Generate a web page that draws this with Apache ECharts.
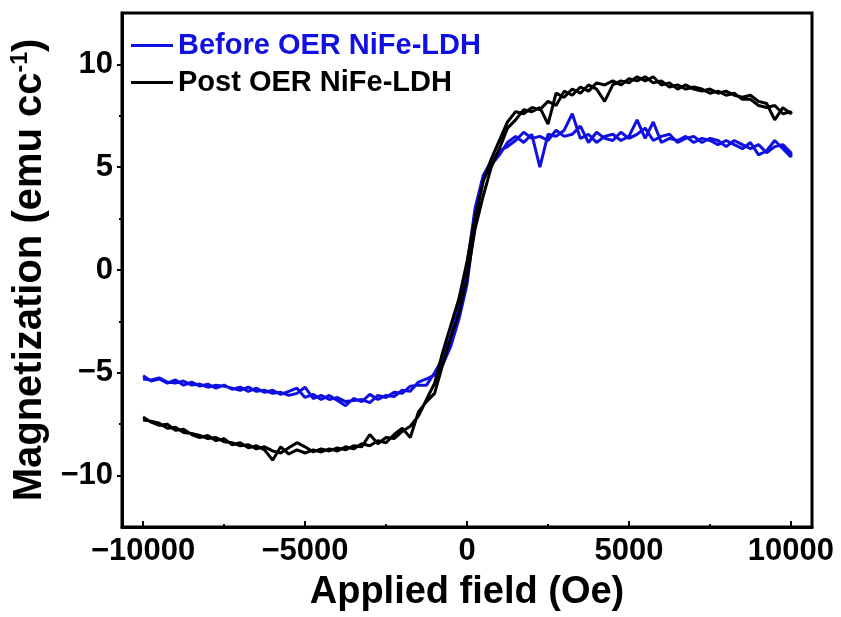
<!DOCTYPE html>
<html><head><meta charset="utf-8">
<script src="https://cdn.jsdelivr.net/npm/echarts@6/dist/echarts.min.js"></script>
<style>html,body{margin:0;padding:0;background:#fff}#c{width:841px;height:617px}</style>
</head><body><div id="c"></div>
<script>
// Applied field grid (Oe)
const field = [-10000,-9750,-9500,-9250,-9000,-8750,-8500,-8250,-8000,-7750,-7500,-7250,-7000,-6750,-6500,-6250,-6000,-5750,-5500,-5250,-5000,-4750,-4500,-4250,-4000,-3750,-3500,-3250,-3000,-2750,-2500,-2250,-2000,-1750,-1500,
 -1250,-1000,-750,-500,-250,0,250,500,750,1000,1250,
 1500,1750,2000,2250,2500,2750,3000,3250,3500,3750,4000,4250,4500,4750,5000,5250,5500,5750,6000,6250,6500,6750,7000,7250,7500,7750,8000,8250,8500,8750,9000,9250,9500,9750,10000];

// Before OER NiFe-LDH (emu cc^-1): increasing-field branch and decreasing-field branch
const beforeUp = [-5.15,-5.4,-5.3,-5.5,-5.35,-5.6,-5.45,-5.65,-5.55,-5.75,-5.6,-5.8,-5.7,-5.9,-5.75,-5.95,-5.85,-6.05,-5.9,-5.75,-6.2,-6.05,-6.3,-6.1,-6.35,-6.6,-6.25,-6.4,-6.05,-6.3,-6.1,-6.15,-5.85,-5.9,-5.45,
 -5.3,-5.1,-4.6,-3.7,-2.4,-0.7,2.4,4.4,5.1,5.6,6.2,
 6.5,6.2,6.6,5.0,6.6,6.5,6.8,7.6,6.4,6.6,6.2,6.5,6.6,6.3,6.5,7.3,6.4,7.2,6.2,6.4,6.3,6.5,6.2,6.4,6.3,6.1,6.3,6.1,5.9,6.2,5.6,5.8,6.3,5.9,5.5];
const beforeDown = [-5.3,-5.35,-5.25,-5.45,-5.5,-5.4,-5.6,-5.55,-5.7,-5.6,-5.65,-5.75,-5.85,-5.7,-5.9,-5.85,-6.0,-5.95,-6.1,-6.0,-5.7,-6.25,-6.1,-6.3,-6.2,-6.4,-6.35,-6.3,-6.45,-6.1,-6.2,-5.95,-6.0,-5.65,-5.6,
 -5.6,-5.0,-4.3,-3.2,-1.7,0.2,3.0,4.6,5.3,5.8,6.0,
 6.3,6.7,6.4,6.5,6.3,6.8,6.5,6.6,7.0,6.2,6.7,6.4,6.3,6.7,6.4,6.6,6.9,6.3,6.5,6.6,6.2,6.4,6.5,6.2,6.4,6.3,6.0,6.3,6.1,5.9,6.1,5.7,6.0,6.1,5.7];

// Post OER NiFe-LDH (emu cc^-1)
const postUp = [-7.15,-7.4,-7.55,-7.5,-7.8,-7.75,-8.0,-8.15,-8.05,-8.3,-8.2,-8.5,-8.4,-8.65,-8.55,-8.75,-9.25,-8.6,-8.95,-8.75,-8.9,-8.75,-8.85,-8.7,-8.8,-8.6,-8.7,-8.45,-8.55,-8.3,-8.4,-8.0,-7.7,-8.15,-6.9,
 -6.4,-6.0,-4.6,-3.3,-2.1,-0.4,2.0,3.6,5.0,5.9,6.9,
 7.3,7.8,7.7,7.9,7.1,8.6,8.4,8.8,8.6,9.0,8.8,8.2,9.0,9.2,9.1,9.4,9.2,9.4,9.0,9.1,8.8,9.0,8.8,8.7,8.8,8.6,8.7,8.5,8.4,8.5,8.2,8.1,7.3,7.9,7.6];
const postDown = [-7.3,-7.35,-7.45,-7.7,-7.65,-7.9,-7.95,-8.05,-8.2,-8.15,-8.35,-8.4,-8.55,-8.5,-8.7,-8.6,-8.8,-8.9,-8.65,-8.4,-8.6,-8.85,-8.7,-8.8,-8.65,-8.75,-8.55,-8.6,-8.0,-8.45,-8.15,-8.2,-7.85,-7.6,-7.1,
 -6.3,-5.5,-4.0,-2.7,-1.4,0.4,2.6,4.3,5.4,6.3,7.2,
 7.7,7.6,7.9,7.8,8.2,8.0,8.7,8.5,8.9,8.7,9.1,9.0,9.2,9.0,9.3,9.2,9.4,9.1,9.2,8.9,9.0,8.8,8.9,8.8,8.6,8.7,8.5,8.6,8.3,8.3,8.0,7.9,8.0,7.6,7.7];

const seriesNames = ['Before OER NiFe-LDH', 'Post OER NiFe-LDH'];
const xMajor = [-10000, -5000, 0, 5000, 10000];
const xMinor = [-7500, -2500, 2500, 7500];
const yMajor = [-10, -5, 0, 5, 10];
const yMinor = [-7.5, -2.5, 2.5, 7.5];

function loop(up, down) {
  const d = [];
  for (let i = 0; i < field.length; i++) d.push([field[i], up[i]]);
  for (let i = field.length - 1; i >= 0; i--) d.push([field[i], down[i]]);
  return d;
}

const F = '"Liberation Sans", Arial, sans-serif';
const BLUE = '#1010e0';
const minus = v => String(v).replace('-', '\u2212');
const X0 = -10650, X1 = 10650, Y0 = -12.5, Y1 = 12.5;
const tickFont = {fontFamily: F, fontWeight: 'bold', fontSize: 31, color: '#000'};

const chart = echarts.init(document.getElementById('c'), null, {renderer: 'canvas'});
chart.setOption({
  animation: false,
  backgroundColor: '#fff',
  grid: {left: 122, right: 29, top: 13, bottom: 90, show: true, borderColor: '#000', borderWidth: 3, containLabel: false},
  legend: {
    left: 131, top: 31, padding: 0, orient: 'vertical', icon: 'rect', itemWidth: 42, itemHeight: 3, itemGap: 8,
    textStyle: {fontFamily: F, fontWeight: 'bold', fontSize: 29},
    data: [
      {name: seriesNames[0], textStyle: {color: BLUE}},
      {name: seriesNames[1], textStyle: {color: '#000'}}
    ]
  },
  xAxis: [{
    type: 'value', min: X0, max: X1, position: 'bottom',
    axisLine: {show: true, onZero: false, lineStyle: {color: '#000', width: 3}},
    axisTick: {show: true, inside: true, length: 6, lineStyle: {color: '#000', width: 2}, customValues: xMajor},
    axisLabel: Object.assign({customValues: xMajor, formatter: minus, margin: 9}, tickFont),
    splitLine: {show: false},
    name: 'Applied field (Oe)', nameLocation: 'middle', nameGap: 47,
    nameTextStyle: {fontFamily: F, fontWeight: 'bold', fontSize: 38, color: '#000'}
  }, {
    type: 'value', min: X0, max: X1, position: 'bottom', offset: 0,
    axisLine: {show: false, onZero: false},
    axisTick: {show: true, inside: true, length: 3, lineStyle: {color: '#000', width: 2}, customValues: xMinor},
    axisLabel: {show: false}, splitLine: {show: false}
  }],
  yAxis: [{
    type: 'value', min: Y0, max: Y1, position: 'left',
    axisLine: {show: true, onZero: false, lineStyle: {color: '#000', width: 3}},
    axisTick: {show: true, inside: false, length: 5, lineStyle: {color: '#000', width: 2}, customValues: yMajor},
    axisLabel: Object.assign({customValues: yMajor, formatter: minus, margin: 9}, tickFont),
    splitLine: {show: false},
    name: '{a|Magnetization (emu cc}{s|-1}{a|)}', nameLocation: 'middle', nameGap: 54, nameRotate: 90,
    nameTextStyle: {
      rich: {
        a: {fontFamily: F, fontWeight: 'bold', fontSize: 40, color: '#000'},
        s: {fontFamily: F, fontWeight: 'bold', fontSize: 23, color: '#000', verticalAlign: 'top', padding: [0, 0, 16, 0]}
      }
    }
  }, {
    type: 'value', min: Y0, max: Y1, position: 'left', offset: 0,
    axisLine: {show: false, onZero: false},
    axisTick: {show: true, inside: false, length: 3, lineStyle: {color: '#000', width: 2}, customValues: yMinor},
    axisLabel: {show: false}, splitLine: {show: false}
  }],
  series: [
    {name: seriesNames[0], type: 'line', data: loop(beforeUp, beforeDown), showSymbol: false, symbol: 'none',
     color: BLUE, lineStyle: {color: BLUE, width: 3}, z: 2},
    {name: seriesNames[1], type: 'line', data: loop(postUp, postDown), showSymbol: false, symbol: 'none',
     color: '#000', lineStyle: {color: '#000', width: 3}, z: 3}
  ]
});
</script>
</body></html>
